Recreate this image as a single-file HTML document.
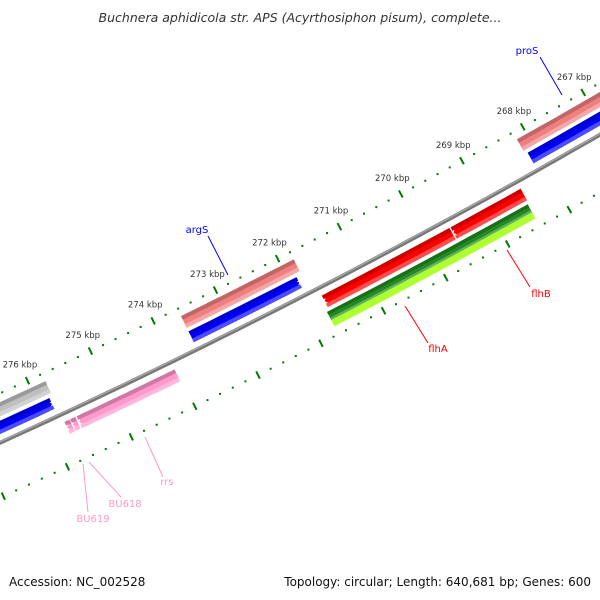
<!DOCTYPE html>
<html><head><meta charset="utf-8"><style>
html,body{margin:0;padding:0;background:#fff;width:600px;height:600px;overflow:hidden}
svg text{font-family:"DejaVu Sans","Liberation Sans",sans-serif}
</style></head><body>
<svg id="map" width="600" height="600" viewBox="0 0 600 600" xmlns="http://www.w3.org/2000/svg">
<text x="300" y="22" text-anchor="middle" font-size="12.5" font-style="italic" fill="#333">Buchnera aphidicola str. APS (Acyrthosiphon pisum), complete...</text>
<g id="layer"></g>
<text x="9" y="586" font-size="12" fill="#111">Accession: NC_002528</text>
<text x="591" y="586" font-size="12" text-anchor="end" fill="#111">Topology: circular; Length: 640,681 bp; Genes: 600</text>
</svg>
<script>
// data
const tickLabels = [267,268,269,270,271,272,273,274,275,276];
const featNames  = ['proS-cog','proS','argS-cog','argS','flhB','flhA','flhA-cog','flhA-cog2','left-cog','left-cds','rrs','BU618','BU619'];
const featStart  = [265.0, 265.0, 271.80, 271.88, 268.46, 269.62, 268.48, 268.48, 275.77, 275.82, 274.03, 275.60, 275.69];
const featEnd    = [268.16,268.12,273.61, 273.61, 269.60, 271.68, 271.72, 271.72, 278.0,  278.0,  275.58, 275.68, 275.77];
const featTrack  = ['cog','cds','cog','cds','rev','rev','green','lime','cog','cds','rev','rev','rev'];
const featArrow  = ['none','right','none','right','left','left','none','none','none','right','left','left','left'];
const featColor  = ['#f08080','#0000ff','#f08080','#0000ff','#ff0000','#ff0000','#228b22','#adff2f','#c0c0c0','#0000ff','#ff99cc','#ff99cc','#ff99cc'];
const labelText  = ['proS','argS','flhB','flhA','rrs','BU618','BU619'];
const labelColor = ['#0000ff','#0000ff','#ff0000','#ff0000','#ff99cc','#ff99cc','#ff99cc'];
const labelFrom  = [[540,57],[208,236],[507,250],[405,306],[145,437],[89,462],[83,464]];
const labelTo    = [[562,95],[228,275],[530,287],[428,343],[163,477],[121,497],[88,512]];
const labelPos   = [[527,54],[197,233],[541,297],[438,352],[167,485],[125,507],[93,522]];

const NS='http://www.w3.org/2000/svg';
const CX=-2940, CY=-6021, R0=7101;
const trackD={cog:[-37,-24],cds:[-20,-8],rev:[8,21],green:[25,35],lime:[34,41]};
function ang(k){return (62.87+(k-272)*0.565)*Math.PI/180;}
function pt(k,d){const a=ang(k);return [CX+(R0+d)*Math.cos(a),CY+(R0+d)*Math.sin(a)];}
const layer=document.getElementById('layer');
function mk(tag,attrs){const e=document.createElementNS(NS,tag);for(const k in attrs)e.setAttribute(k,attrs[k]);layer.appendChild(e);return e;}
function bandPts(s,e,d1,d2,arrow){
  const aL=0.08, n=10, out=[];
  let bs=s, be=e;
  if(arrow==='left') be=Math.max(s,e-aL);
  if(arrow==='right') bs=Math.min(e,s+aL);
  for(let i=0;i<=n;i++){out.push(pt(bs+(be-bs)*i/n,d1));}
  if(arrow==='left') out.push(pt(e,(d1+d2)/2));
  for(let i=n;i>=0;i--){out.push(pt(bs+(be-bs)*i/n,d2));}
  if(arrow==='right') out.push(pt(s,(d1+d2)/2));
  return out.map(p=>p[0].toFixed(1)+','+p[1].toFixed(1)).join(' ');
}
function shade(c,f){const n=parseInt(c.slice(1),16);let r=n>>16,g=(n>>8)&255,b=n&255;
  if(f<0){r*=1+f;g*=1+f;b*=1+f;}else{r+=(255-r)*f;g+=(255-g)*f;b+=(255-b)*f;}
  return 'rgb('+Math.round(r)+','+Math.round(g)+','+Math.round(b)+')';}

// backbone
let bb=[];for(let k=264;k<=279;k+=0.25)bb.push(pt(k,0));
const bbs=bb.map(p=>p[0].toFixed(1)+','+p[1].toFixed(1)).join(' ');
let e1=mk('polyline',{points:bbs,fill:'none',stroke:'#777',"stroke-width":4});


let e2=mk('polyline',{points:bbs,fill:'none',stroke:'#aaa',"stroke-width":1.2,transform:'translate(0,-1)'});



// ticks
[-45,50].forEach((d,ri)=>{
  for(let t=2650;t<=2780;t+=2){
    const k=t/10;
    if(t%10===0){
      const a=pt(k,d-4),b=pt(k,d+4);
      const l=mk('line',{x1:a[0],y1:a[1],x2:b[0],y2:b[1],stroke:'#007a00',"stroke-width":2});
      
      
    } else {
      const a=pt(k,d);
      const r=mk('rect',{x:a[0]-1,y:a[1]-1,width:2,height:2,fill:'#007a00'});
      
      
    }
  }
});
tickLabels.forEach(k=>{
  const p=pt(k,-63);
  const t=mk('text',{x:p[0],y:p[1]+3,"font-size":8.5,"text-anchor":"middle",fill:'#333'});
  t.textContent=k+' kbp';
  
  
});

// features
featNames.forEach((nm,i)=>{
  const [d1,d2]=trackD[featTrack[i]];
  const c=featColor[i];
  const g=mk('polygon',{points:bandPts(featStart[i],featEnd[i],d1,d2,featArrow[i]),fill:c});
  
  
  if(featTrack[i]!=='lime'){
    const h=Math.min(4,(d2-d1)/3);
    const tp=mk('polygon',{points:bandPts(featStart[i],featEnd[i],d1,d1+h,featArrow[i]==='none'?'none':'none'),fill:shade(c,-0.2)});
    
    
    const bt=mk('polygon',{points:bandPts(featStart[i],featEnd[i],d2-h,d2,'none'),fill:shade(c,0.3)});
    
    
  }
});

// labels
labelText.forEach((t,i)=>{
  const l=mk('line',{x1:labelFrom[i][0],y1:labelFrom[i][1],x2:labelTo[i][0],y2:labelTo[i][1],stroke:labelColor[i],"stroke-width":1});
  
  
  const tx=mk('text',{x:labelPos[i][0],y:labelPos[i][1],"font-size":10,"text-anchor":"middle",fill:labelColor[i]});
  tx.textContent=t;
  
  
});
</script>
</body></html>
